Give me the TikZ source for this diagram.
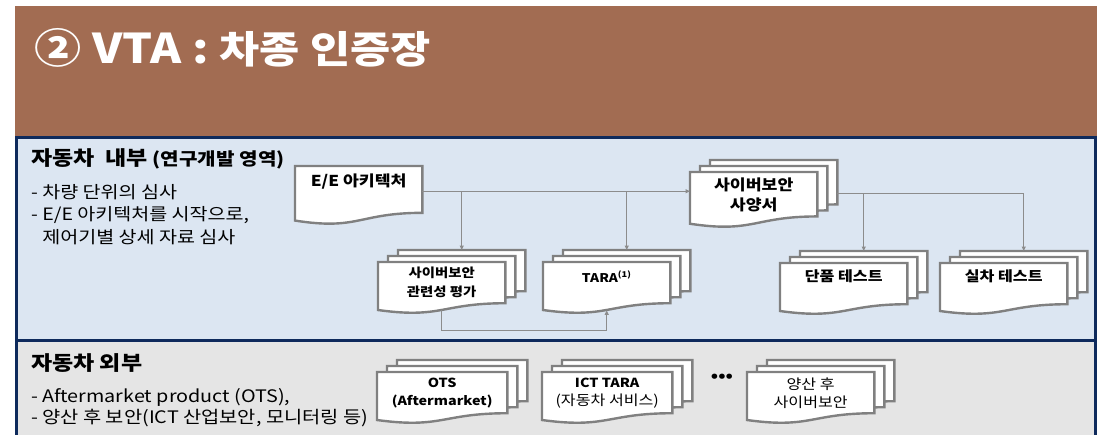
\documentclass[tikz,border=0pt]{standalone}
\usepackage{fontspec}
\setmainfont{Noto Sans CJK KR}[FakeStretch=1.15]
\usetikzlibrary{positioning,calc,arrows.meta}

\definecolor{vtabrown}{RGB}{162,108,82}
\definecolor{vtanavy}{RGB}{14,42,92}
\definecolor{vtablue}{RGB}{220,230,242}
\definecolor{vtagray}{RGB}{229,229,229}
\definecolor{docgray}{RGB}{128,128,128}
\definecolor{linegray}{RGB}{140,140,140}

% one sheet of a document symbol, drawn round a box node, shifted by (#2,#3)
\newcommand\paper[3]{%
  \draw[paper] let \p1=(#1.north west), \p2=(#1.south east),
    \n1={\y1-\y2}, \n2={(\x1+\x2)/2} in
    ({\x1+#2},{\y1+#3}) -- ({\x2+#2},{\y1+#3})
    -- ({\x2+#2},{\y2+0.198*\n1+#3})
    .. controls ({\n2+#2},{\y2+0.198*\n1+#3}) and ({\n2+#2},{\y2-0.107*\n1+#3})
    .. ({\x1+#2},{\y2+0.066*\n1+#3}) -- cycle;}
% three sheets
\newcommand\stack[1]{\paper{#1}{20pt}{12pt}\paper{#1}{10pt}{6pt}\paper{#1}{0pt}{0pt}}

\begin{document}
\begin{tikzpicture}[x=1pt,y=-1pt,
panel/.style ={draw=vtanavy, line width=3pt},
docbox/.style ={rectangle, anchor=north west, inner sep=0pt,
  minimum width=127pt, minimum height=51pt
},
paper/.style ={draw=docgray, line width=2.4pt, fill=white},
doclabel/.style ={inner sep=0pt, align=center,
  font=\bfseries\fontsize{12}{17}\selectfont
},
flow/.style ={draw=linegray, line width=1.1pt,
  -{Triangle[length=4.5pt,width=4pt]}
}]
\useasboundingbox (0,0) rectangle (1101,434);

% title bar
\fill[vtabrown] (15,6) rectangle (1097,136);
\node[anchor=base west, inner sep=0pt, text=white,
  font=\bfseries\fontsize{41}{44}\selectfont] (title) at (34,63)
  {② VTA : {\fontsize{38}{44}\selectfont 차종 인증장}};

% the two areas
\draw[panel, fill=vtablue] (16.5,137.5) rectangle (1095.5,340);
\draw[panel, fill=vtagray] (16.5,340) rectangle (1095.5,450);

\node[anchor=base west, inner sep=0pt, font=\bfseries\fontsize{20}{24}\selectfont]
  (inhead) at (31,165) {자동차\ \ 내부 {\fontsize{17.5}{20}\selectfont (연구개발 영역)}};
\node[anchor=north west, inner sep=0pt, align=left, font=\fontsize{17}{22.5}\selectfont]
  (inlist) at (31,184) {- 차량 단위의 심사\\- E/E 아키텍처를 시작으로,\\\phantom{- }제어기별 상세 자료 심사};

\node[anchor=base west, inner sep=0pt, font=\bfseries\fontsize{20}{24}\selectfont]
  (outhead) at (31,370) {자동차 외부};
\node[anchor=north west, inner sep=0pt, align=left, font=\fontsize{17.2}{21}\selectfont]
  (outlist) at (31,388) {- Aftermarket product (OTS),\\- 양산 후 보안(ICT 산업보안, 모니터링 등)};

% document boxes
\node[docbox, minimum height=58pt] (arch) at (295,166) {};
\node[docbox, minimum height=55pt] (spec) at (690,172) {};
\node[docbox] (relev) at (378,262) {};
\node[docbox] (tara) at (543,262) {};
\node[docbox] (unit) at (780,263) {};
\node[docbox] (vehicle) at (940,263) {};
\node[docbox, minimum width=130pt] (ots) at (377,372) {};
\node[docbox, minimum width=130pt] (ict) at (542,372) {};
\node[docbox] (mass) at (747,372) {};

\paper{arch}{0pt}{0pt}
\stack{spec}
\stack{relev}
\stack{tara}
\stack{unit}
\stack{vehicle}
\stack{ots}
\stack{ict}
\stack{mass}

% texts
\node[doclabel, font=\bfseries\fontsize{15}{19}\selectfont, below=8pt of arch.north] (arch-t) {E/E 아키텍처};
\node[doclabel, font=\bfseries\fontsize{15}{19.5}\selectfont, below=6pt of spec.north] (spec-t) {사이버보안\\사양서};
\node[doclabel, font=\bfseries\fontsize{12.5}{19}\selectfont, below=5pt of relev.north] (relev-t) {사이버보안\\관련성 평가};
\node[doclabel, below=9pt of tara.north] (tara-t) {TARA\textsuperscript{(1)}};
\node[doclabel, font=\bfseries\fontsize{14}{18}\selectfont, below=6pt of unit.north] (unit-t) {단품 테스트};
\node[doclabel, font=\bfseries\fontsize{14}{18}\selectfont, below=6pt of vehicle.north] (vehicle-t) {실차 테스트};
\node[doclabel, font=\bfseries\fontsize{12.5}{18}\selectfont, below=6pt of ots.north] (ots-t) {OTS\\(Aftermarket)};
\node[doclabel, font=\fontsize{14}{18}\selectfont, below=6pt of ict.north] (ict-t) {{\bfseries\fontsize{12.5}{18}\selectfont ICT TARA}\\(자동차 서비스)};
\node[doclabel, font=\fontsize{14}{18}\selectfont, below=6pt of mass.north] (mass-t) {양산 후\\사이버보안};
\node[inner sep=0pt, font=\bfseries\fontsize{16}{16}\selectfont] (dots) at (722,378) {•••};

% connectors
\coordinate (main) at ([yshift=4pt]arch.east);
\coordinate (relev-in) at ([shift={(20pt,12pt)}]relev.north);
\coordinate (tara-in) at ([shift={(20pt,12pt)}]tara.north);
\coordinate (unit-in) at ([shift={(20pt,12pt)}]unit.north);
\coordinate (vehicle-in) at ([shift={(20pt,12pt)}]vehicle.north);
\coordinate (spec-out) at ([shift={(20pt,6pt)}]spec.east);

\draw[flow] (main) -- (main -| spec.west);
\draw[flow] (main -| relev-in) -- (relev-in);
\draw[flow] (main -| tara-in) -- (tara-in);
\draw[draw=linegray, line width=1.1pt] (spec-out) -- (spec-out -| vehicle-in);
\draw[flow] (spec-out -| unit-in) -- (unit-in);
\draw[flow] (spec-out -| vehicle-in) -- (vehicle-in);
\draw[flow] ([yshift=3pt]relev.south) -- ++(0,20) -| ([yshift=3pt]tara.south);
\end{tikzpicture}
\end{document}
